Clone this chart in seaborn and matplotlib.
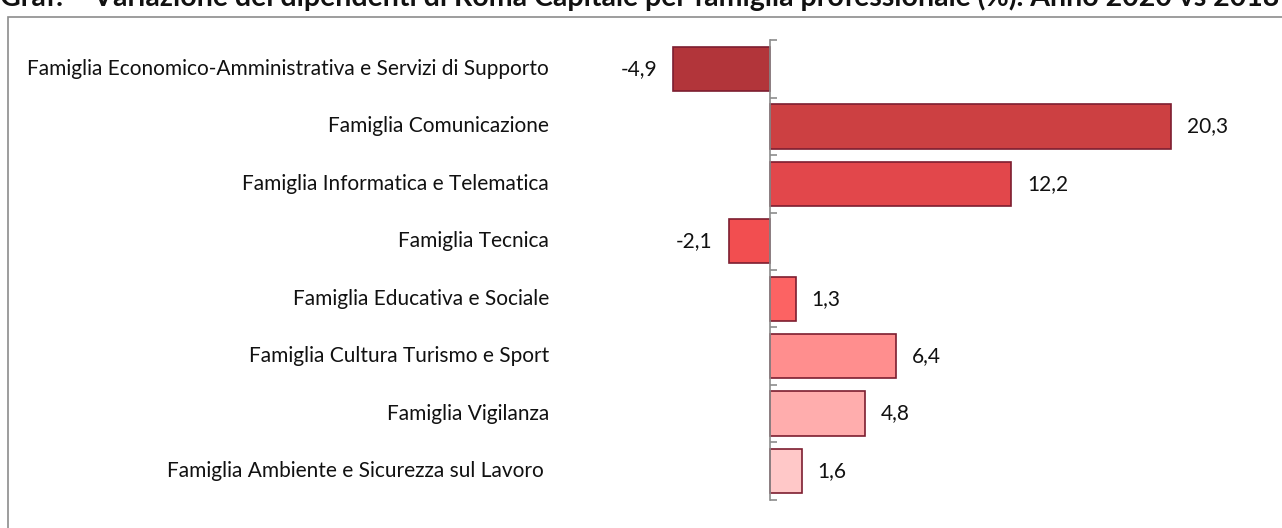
import numpy as np
import pandas as pd
import seaborn as sns
import matplotlib
matplotlib.use('Agg')
import matplotlib.pyplot as plt
import matplotlib.transforms as mtransforms
from matplotlib.patches import Rectangle

## Data
categories = [
    "Famiglia Economico-Amministrativa e Servizi di Supporto",
    "Famiglia Comunicazione",
    "Famiglia Informatica e Telematica",
    "Famiglia Tecnica",
    "Famiglia Educativa e Sociale",
    "Famiglia Cultura Turismo e Sport",
    "Famiglia Vigilanza",
    "Famiglia Ambiente e Sicurezza sul Lavoro ",
]
values = [-4.9, 20.3, 12.2, -2.1, 1.3, 6.4, 4.8, 1.6]
bar_colors = ["#B2353A", "#CC4042", "#E2474B", "#F24E50",
              "#FC6363", "#FF8E8E", "#FFADAD", "#FFC8C8"]
title = ("Graf. \u2013 Variazione dei dipendenti di Roma Capitale per famiglia "
         "professionale (%). Anno 2020 vs 2018")

df = pd.DataFrame({"categoria": categories, "valore": values})

sns.set_style("white")
plt.rcParams['font.family'] = ['Lato', 'DejaVu Sans']

W, H = 1282, 528
fig = plt.figure(figsize=(W / 100, H / 100), dpi=100)

## axes placed so that zero sits at x=770 px, 19.75 px per unit
xmin, xmax = -7, 25
ppu = 19.75
x0 = 770
left = (x0 + xmin * ppu) / W
width = (xmax - xmin) * ppu / W
top_px, bot_px = 40.3, 499.7
ax = fig.add_axes([left, (H - bot_px) / H, width, (bot_px - top_px) / H])

sns.barplot(data=df, y="categoria", x="valore", hue="categoria",
            palette=bar_colors, orient="h", width=0.77, legend=False,
            saturation=1, edgecolor="#7D1E30", linewidth=1.2, ax=ax)

ax.set_xlim(xmin, xmax)
ax.set_ylim(len(categories) - 0.5, -0.5)
ax.set_xlabel("")
ax.set_ylabel("")
ax.set_xticks([])
for s in ["top", "right", "bottom"]:
    ax.spines[s].set_visible(False)
ax.spines["left"].set_position(("data", 0))
ax.spines["left"].set_color("#8C8C8C")
ax.spines["left"].set_linewidth(1.2)
ax.set_yticks(np.arange(-0.5, len(categories), 1.0))
ax.set_yticklabels([])
ax.tick_params(axis="y", left=True, direction="in", length=5,
               color="#8C8C8C", width=1.2)

## category labels at left of plot area
trans = mtransforms.blended_transform_factory(fig.transFigure, ax.transData)
for i, cat in enumerate(categories):
    ax.text(549 / W, i, cat, transform=trans, ha="right", va="center",
            fontsize=15, color="#111111", clip_on=False)

## value labels
for i, v in enumerate(values):
    lab = f"{v:.1f}".replace(".", ",")
    off = 11.5 if v >= 0 else -11.5
    ax.annotate(lab, (v, i), xytext=(off, 0), textcoords="offset points",
                ha="left" if v >= 0 else "right", va="center",
                fontsize=15, color="#111111")

## chart frame and title (top edge cut, as in the source image)
fig.patches.append(Rectangle((8 / W, -0.1), 1.2, 1.1 - 17 / H,
                             transform=fig.transFigure, fill=False,
                             edgecolor="#8C8C8C", linewidth=1.2))
fig.text(0 / W, 1 - 6 / H, title, ha="left", va="baseline",
         fontsize=20.5, fontweight="bold", color="#111111")

fig.savefig("out.png", dpi=100)
